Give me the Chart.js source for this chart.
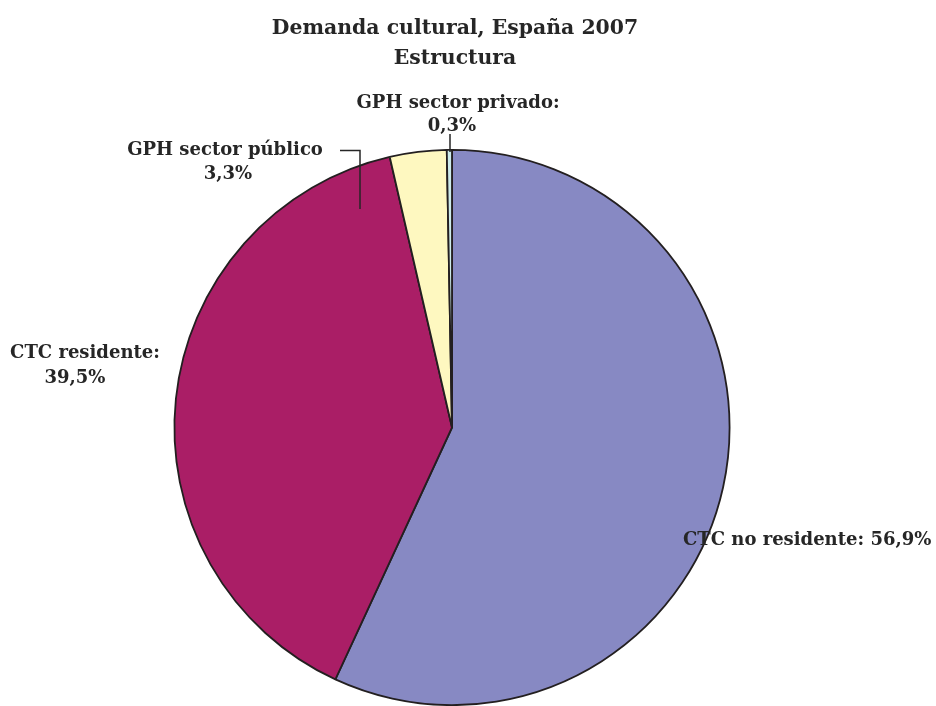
<!DOCTYPE html>
<html lang="es">
<head>
    <meta charset="UTF-8">
    <script src="https://cdn.jsdelivr.net/npm/chart.js"></script>
    <title>Demanda cultural, España 2007</title>
    <style>
        html, body { margin: 0; padding: 0; background: #fff; }
        .container { width: 936px; height: 706px; }
    </style>
</head>
<body>
    <div class="container">
        <canvas id="demandChart" width="936" height="706"></canvas>
    </div>
    <script>
        // Datos
        const categories = ['CTC no residente', 'CTC residente', 'GPH sector público', 'GPH sector privado'];
        const shares = [56.9, 39.5, 3.3, 0.3];
        const sliceColors = ['#8789C3', '#AA1E66', '#FEF8C0', '#CDEBEB'];
        const titleLines = ['Demanda cultural, España 2007', 'Estructura'];

        const fmt = v => v.toFixed(1).replace('.', ',') + '%';
        const FONT = '"DejaVu Serif", "Liberation Serif", serif';
        const INK = '#262626';

        // title + outside labels with leader lines
        const labelPlugin = {
            id: 'pieLabels',
            afterDraw(chart) {
                const ctx = chart.ctx;
                const arc = chart.getDatasetMeta(0).data[0];
                const cx = arc.x, cy = arc.y, r = arc.outerRadius;

                ctx.save();
                ctx.fillStyle = INK;
                ctx.textAlign = 'center';
                ctx.textBaseline = 'alphabetic';
                ctx.font = 'bold 20.4px ' + FONT;
                ctx.fillText(titleLines[0], 455, 34);
                ctx.fillText(titleLines[1], 455, 64);

                ctx.font = 'bold 18px ' + FONT;
                // GPH sector privado (top)
                ctx.fillText(categories[3] + ':', cx + 6, cy - r - 42);
                ctx.fillText(fmt(shares[3]), cx, cy - r - 19);
                // GPH sector público
                ctx.fillText(categories[2], cx - 227, cy - r + 5);
                ctx.fillText(fmt(shares[2]), cx - 224, cy - r + 29);
                // CTC residente
                ctx.fillText(categories[1] + ':', cx - 367, cy - 70);
                ctx.fillText(fmt(shares[1]), cx - 377, cy - 45);
                // CTC no residente
                ctx.textAlign = 'left';
                ctx.fillText(categories[0] + ': ' + fmt(shares[0]), cx + 231, cy + 117);

                // leader lines
                ctx.strokeStyle = INK;
                ctx.lineWidth = 1.5;
                ctx.beginPath();
                ctx.moveTo(cx - 2, cy - r - 16);
                ctx.lineTo(cx - 2, cy - r + 2);
                ctx.moveTo(cx - 112, cy - r + 0.5);
                ctx.lineTo(cx - 92, cy - r + 0.5);
                ctx.lineTo(cx - 92, cy - r + 59);
                ctx.stroke();
                ctx.restore();
            }
        };

        const ctx = document.getElementById('demandChart').getContext('2d');
        new Chart(ctx, {
            type: 'pie',
            data: {
                labels: categories,
                datasets: [{
                    data: shares,
                    backgroundColor: sliceColors,
                    borderColor: '#231f20',
                    borderWidth: 1.8
                }]
            },
            options: {
                responsive: false,
                animation: false,
                layout: {
                    padding: { top: 149, bottom: 0, left: 173, right: 205 }
                },
                plugins: {
                    legend: { display: false },
                    tooltip: { enabled: false },
                    title: { display: false }
                }
            },
            plugins: [labelPlugin]
        });
    </script>
</body>
</html>
